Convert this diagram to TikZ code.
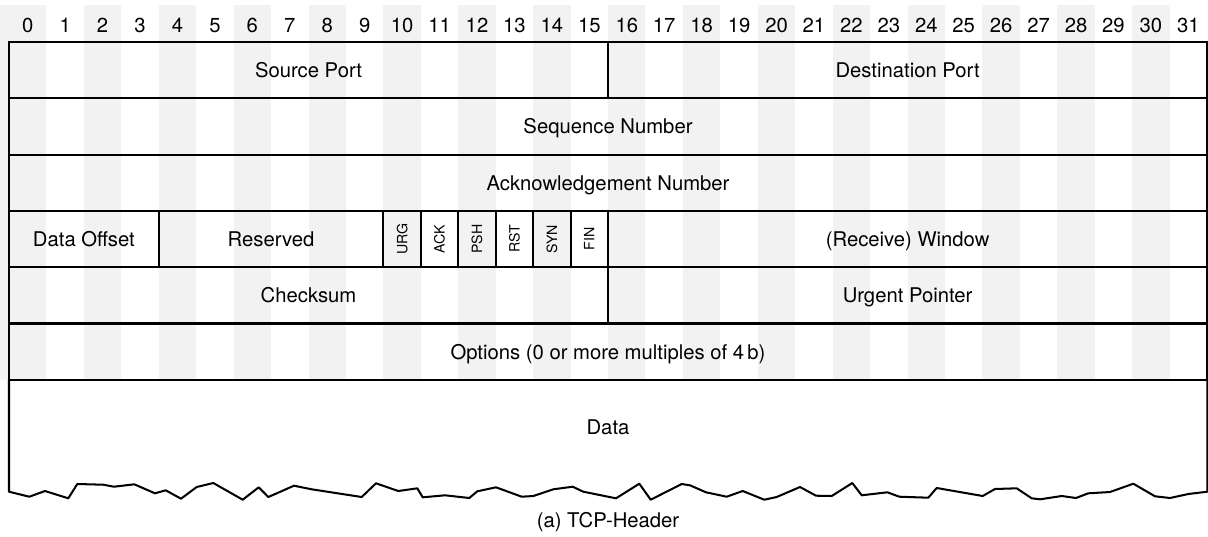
\documentclass[tikz,border=0pt]{standalone}
\usepackage{fontspec}
\setmainfont{TeX Gyre Heros}
\usepackage{tikz}
\tikzstyle{fieldText}=[font = \fontsize{10}{12}\selectfont, inner sep = 0pt, anchor = base]
\tikzstyle{flagText}=[font = \fontsize{7}{8}\selectfont, inner sep = 0pt, rotate = 90]
\tikzstyle{bitStripe}=[fill = black!5]
\tikzstyle{fieldLine}=[line width = 1pt]

\begin{document}
\begin{tikzpicture}[x = 0.4935pt, y = -0.4935pt]
\useasboundingbox (0,0) rectangle (1208,536);
\fill[bitStripe] (0,5) rectangle (46.44,379.8);
\foreach \b in {2,4,...,30}
  \fill[bitStripe] ({9+37.44*\b},5) rectangle ({9+37.44*(\b+1)},379.8);
\foreach \b in {0,...,31}
  \node[fieldText] (bit\b) at ({9+37.44*(\b+0.5)},32) {\b};
\draw[fieldLine] (9,42) rectangle (1207.3,379.8);
\foreach \y in {98.3,154.6,210.9,267.2,323.5}
  \draw[fieldLine] (9,\y) -- (1207.3,\y);
\draw[fieldLine] (608,42) -- (608,98.3);
\draw[fieldLine] (608,267.2) -- (608,323.5);
\foreach \b in {4,10,11,...,16}
  \draw[fieldLine] ({9+37.44*\b},210.9) -- ({9+37.44*\b},267.2);
\draw[fieldLine, line join = round] (9,379.8) -- (9,491.7) -- (29.3,496.7) -- (45,491) -- (68.3,498.3) -- (77.3,484)
  -- (103.3,484.7) -- (114,486.7) -- (134.3,484.3) -- (155,493.3) -- (165.7,490.3) -- (181,498.7)
  -- (196.7,487) -- (213.3,483) -- (242.7,499.7) -- (258.7,487.3) -- (268.3,497) -- (294,485.7)
  -- (311.7,489.3) -- (361.7,497) -- (376,483.3) -- (398.3,491) -- (417.3,488.3) -- (422.7,497.3)
  -- (445,495.3) -- (469.3,498) -- (477.3,491.3) -- (496,487.3) -- (521.7,496.7) -- (533.3,496)
  -- (553.3,489.3) -- (572.7,486.7) -- (583.3,491.7) -- (616,498.3) -- (639.3,483.7) -- (650.7,499.7)
  -- (681.7,484) -- (690,485.3) -- (706,492.3) -- (726.7,496.7) -- (742.7,491) -- (764.3,499.7)
  -- (776.7,497) -- (800,487) -- (816,495.7) -- (831.7,496) -- (852.3,483) -- (861.7,495.3)
  -- (887.3,492.3) -- (899.3,496.7) -- (928.3,497.7) -- (936.7,488) -- (982.7,496) -- (995,489)
  -- (1016.7,488.3) -- (1031.7,498.3) -- (1040,499.3) -- (1061.7,496) -- (1076,498) -- (1088.3,493.3)
  -- (1110,492) -- (1133.3,483.7) -- (1155,496.3) -- (1170,498) -- (1188.3,494) -- (1207.3,491.7)
  -- (1207.3,379.8);
\node[fieldText] (srcPort) at (308.5,77.5) {Source Port};
\node[fieldText] (dstPort) at (907.6,77.5) {Destination Port};
\node[fieldText] (seqNum) at (608,133.8) {Sequence Number};
\node[fieldText] (ackNum) at (608,190.1) {Acknowledgement Number};
\node[fieldText] (dataOffset) at (83.9,246.3) {Data Offset};
\node[fieldText] (reserved) at (271.1,246.3) {Reserved};
\foreach \f [count = \i from 0] in {URG,ACK,PSH,RST,SYN,FIN}
  \node[flagText] (flag\f) at ({9+37.44*(10.5+\i)},239) {\f};
\node[fieldText] (window) at (907.6,246.3) {(Receive) Window};
\node[fieldText] (checksum) at (308.5,302.7) {Checksum};
\node[fieldText] (urgPtr) at (907.6,302.7) {Urgent Pointer};
\node[fieldText] (options) at (608,359) {Options (0 or more multiples of 4\,b)};
\node[fieldText] (data) at (608,434) {Data};
\node[fieldText] (caption) at (608,527) {(a) TCP-Header};
\end{tikzpicture}
\end{document}
